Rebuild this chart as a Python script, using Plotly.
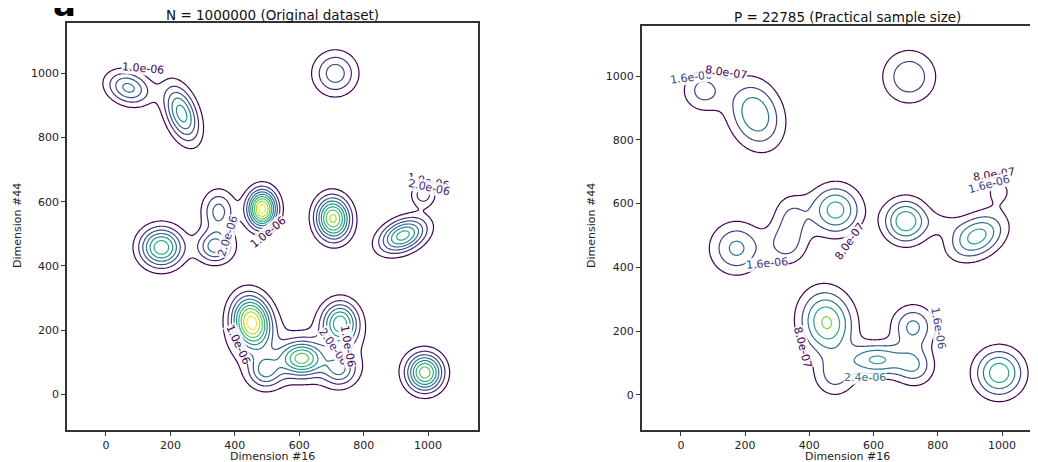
import numpy as np
import plotly.graph_objects as go
import plotly.colors as pc

# ---------------- data ----------------
# Gaussian bumps making up each density surface (centres, spreads, tilt, peak height in 1e-6)
left_cx = [70, 235, 712, 172, 338, 350, 485, 705, 922, 985, 452, 608, 495, 727, 725, 990, 600]
left_cy = [955, 875, 1000, 458, 460, 570, 578, 548, 495, 622, 225, 112, 72, 222, 78, 68, 120]
left_s1 = [48, 62, 46, 45, 38, 45, 40, 45, 52, 26, 55, 45, 35, 45, 35, 38, 170]
left_s2 = [34, 32, 46, 42, 34, 35, 31, 36, 32, 26, 40, 35, 35, 38, 35, 40, 75]
left_ang = [-20, -70, 0, 0, 0, 90, 90, 95, 25, 0, 100, 0, 0, 90, 0, 0, 0]
left_amp = [4.3, 5.5, 3.6, 6.8, 4.5, 3.4, 9.5, 8.3, 6.5, 2.6, 9.3, 6.4, 3.6, 6.5, 3.6, 7.6, 1.2]

right_cx = [70, 232, 711, 173, 328, 345, 482, 700, 922, 990, 454, 610, 480, 723, 728, 991, 815]
right_cy = [955, 880, 998, 460, 470, 560, 580, 545, 497, 640, 227, 110, 60, 214, 90, 69, 540]
right_s1 = [45, 75, 57, 55, 45, 50, 52, 46, 62, 35, 68, 60, 45, 45, 42, 51, 40]
right_s2 = [45, 55, 57, 55, 45, 40, 52, 46, 42, 35, 55, 35, 45, 45, 42, 51, 30]
right_ang = [0, -70, 0, 0, 0, 90, 0, 0, 30, 0, 100, 0, 0, 0, 0, 0, 0]
right_amp = [1.9, 3.1, 2.27, 2.6, 1.75, 1.6, 3.6, 3.95, 3.6, 1.0, 4.15, 3.3, 1.8, 2.6, 2.2, 3.8, 0.7]

left_levels = [1e-6, 9e-6, 1e-6]      # start, end, step
right_levels = [8e-7, 4.8e-6, 8e-7]

left_title = "N = 1000000 (Original dataset)"
right_title = "P = 22785 (Practical sample size)"
x_label = "Dimension #16"
y_label = "Dimension #44"
tick_vals = [0, 200, 400, 600, 800, 1000]

# contour labels: text, x, y, angle, level index
left_labels = [("1.0e-06", 115, 1016, 5, 0), ("2.0e-06", 378, 492, -72, 1),
               ("1.0e-06", 503, 505, -40, 0), ("1.0e-06", 1000, 662, 12, 0),
               ("2.0e-06", 1002, 645, 12, 1), ("1.0e-06", 410, 155, 65, 0),
               ("2.0e-06", 705, 148, 55, 1), ("1.0e-06", 752, 150, 80, 0)]
right_labels = [("1.6e-06", 30, 995, -8, 1), ("8.0e-07", 140, 1010, 8, 0),
                ("8.0e-07", 975, 690, -8, 0), ("1.6e-06", 958, 660, -15, 1),
                ("8.0e-07", 526, 480, -55, 0), ("1.6e-06", 268, 413, -5, 1),
                ("8.0e-07", 380, 150, 75, 0), ("1.6e-06", 800, 210, 80, 1),
                ("2.4e-06", 573, 55, 0, 2)]

# ---------------- build surfaces ----------------
gx = np.arange(-130, 1171, 4.0)
gy = np.arange(-130, 1171, 4.0)
X, Y = np.meshgrid(gx, gy)


def surface(cx, cy, s1, s2, ang, amp):
    Z = np.zeros_like(X)
    for a, b, p, q, t, h in zip(cx, cy, s1, s2, ang, amp):
        th = np.deg2rad(t)
        dx, dy = X - a, Y - b
        u = dx * np.cos(th) + dy * np.sin(th)
        v = -dx * np.sin(th) + dy * np.cos(th)
        Z += h * 1e-6 * np.exp(-0.5 * ((u / p) ** 2 + (v / q) ** 2))
    return Z


ZL = surface(left_cx, left_cy, left_s1, left_s2, left_ang, left_amp)
ZR = surface(right_cx, right_cy, right_s1, right_s2, right_ang, right_amp)

viridis = ["#440154", "#482878", "#3e4989", "#31688e", "#26828e",
           "#1f9e89", "#35b779", "#6ece58", "#b5de2b", "#fde725"]
vscale = [[i / (len(viridis) - 1), c] for i, c in enumerate(viridis)]


def level_color(idx, lev):
    n = int(round((lev[1] - lev[0]) / lev[2]))
    return pc.sample_colorscale(vscale, [idx / n])[0]


# page pixel -> paper coordinates (the page body has an 8 px margin)
W, H, OFF = 1030, 454, 8


def px(p):
    return (p - OFF) / W


def py(p):
    return 1 - (p - OFF) / H


fig = go.Figure()
for Z, lev, xa, ya in [(ZL, left_levels, "x", "y"), (ZR, right_levels, "x2", "y2")]:
    fig.add_trace(go.Contour(
        x=gx, y=gy, z=Z, xaxis=xa, yaxis=ya,
        contours=dict(coloring="lines", start=lev[0], end=lev[1], size=lev[2]),
        colorscale=vscale, zmin=lev[0], zmax=lev[1], zauto=False,
        line=dict(width=1.2), showscale=False, hoverinfo="skip"))

font_family = "DejaVu Sans"
ax_common = dict(showgrid=False, zeroline=False, showline=True, linecolor="#333",
                 linewidth=1.5, ticks="outside", ticklen=4, tickwidth=1, tickcolor="#333",
                 tickvals=tick_vals, tickfont=dict(size=11, color="#222", family=font_family))

fig.update_layout(
    width=W, height=H, margin=dict(l=0, r=0, t=0, b=0),
    paper_bgcolor="white", plot_bgcolor="white", showlegend=False,
    xaxis=dict(domain=[px(67), px(478)], range=[-121, 1155], mirror=True, anchor="y", **ax_common),
    yaxis=dict(domain=[py(430), py(23)], range=[-111, 1157], mirror=True, anchor="x", **ax_common),
    xaxis2=dict(domain=[px(641.7), 1.0], range=[-122, 1112], mirror=True, anchor="y2", **ax_common),
    yaxis2=dict(domain=[py(430), py(25.7)], range=[-110, 1158], mirror=False, anchor="x2", **ax_common),
)

ann = []
for txt, xc, yc in [(left_title, 272.5, 15.5), (right_title, 847, 17)]:
    ann.append(dict(text=txt, x=px(xc), y=py(yc), xref="paper", yref="paper", showarrow=False,
                    xanchor="center", yanchor="middle", font=dict(size=13.5, color="#111", family=font_family)))
for xc in [272.5, 847]:
    ann.append(dict(text=x_label, x=px(xc), y=py(456.5), xref="paper", yref="paper", showarrow=False,
                    xanchor="center", yanchor="middle", font=dict(size=11, color="#222", family=font_family)))
for xc in [18, 592]:
    ann.append(dict(text=y_label, x=px(xc), y=py(226), xref="paper", yref="paper", showarrow=False,
                    textangle=-90, xanchor="center", yanchor="middle",
                    font=dict(size=11, color="#222", family=font_family)))
for labels, lev, xr, yr in [(left_labels, left_levels, "x", "y"), (right_labels, right_levels, "x2", "y2")]:
    for txt, lx, ly, ang, idx in labels:
        ann.append(dict(text=txt, x=lx, y=ly, xref=xr, yref=yr, showarrow=False, textangle=ang,
                        bgcolor="rgba(255,255,255,0.85)", borderpad=0,
                        font=dict(size=11, color=level_color(idx, lev), family=font_family)))
# cropped panel letter at the top-left corner
ann.append(dict(text="<b>a</b>", x=px(64), y=py(26), xref="paper", yref="paper", showarrow=False,
                xanchor="center", yanchor="bottom", font=dict(size=34, color="black", family=font_family)))
fig.update_layout(annotations=ann)

fig.write_html("out.html")
